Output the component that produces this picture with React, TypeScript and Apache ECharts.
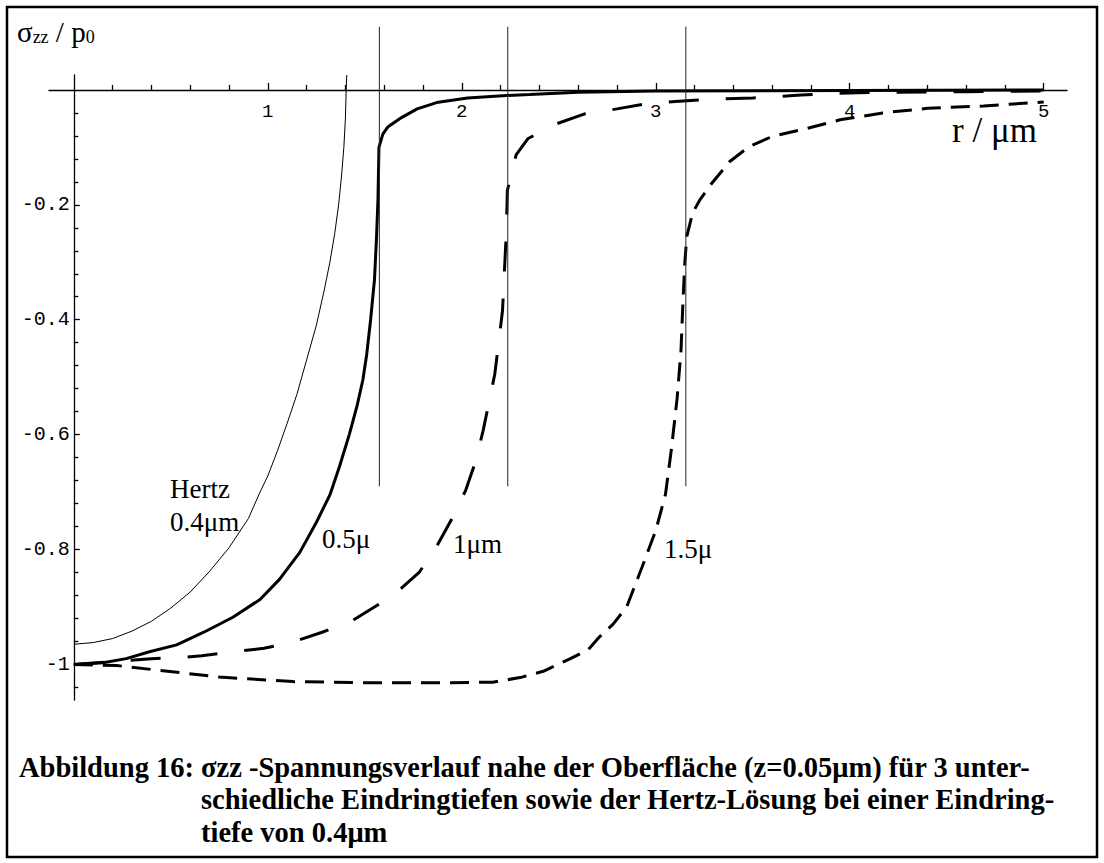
import React, { useEffect, useRef } from "react";
import * as echarts from "echarts";

// sigma_zz / p0 along r (µm) at z = 0.05 µm
const hertz04: [number, number][] = [
  [0, -0.965], [0.1, -0.962], [0.2, -0.955], [0.3, -0.942], [0.4, -0.925],
  [0.5, -0.902], [0.6, -0.874], [0.7, -0.838], [0.8, -0.797], [0.9, -0.746],
  [0.96, -0.7], [1.0, -0.672], [1.05, -0.628], [1.1, -0.58], [1.15, -0.53],
  [1.2, -0.47], [1.25, -0.41], [1.29, -0.35], [1.32, -0.3], [1.345, -0.25],
  [1.365, -0.2], [1.38, -0.15], [1.392, -0.1], [1.4, -0.05], [1.404, 0.0],
  [1.407, 0.026],
];

const depth05: [number, number][] = [
  [0, -1.0], [0.15, -0.997], [0.27, -0.99], [0.39, -0.978], [0.53, -0.966],
  [0.67, -0.944], [0.82, -0.918], [0.96, -0.887], [1.06, -0.852], [1.165, -0.805],
  [1.25, -0.753], [1.32, -0.705], [1.37, -0.655], [1.42, -0.6], [1.46, -0.55],
  [1.49, -0.505], [1.51, -0.46], [1.53, -0.4], [1.55, -0.33], [1.56, -0.26],
  [1.568, -0.19], [1.573, -0.1], [1.593, -0.077], [1.62, -0.064], [1.68, -0.05],
  [1.77, -0.033], [1.87, -0.022], [2.03, -0.014], [2.21, -0.01], [2.35, -0.008],
  [2.6, -0.004], [3.0, -0.002], [4.0, -0.001], [5.0, 0.0],
];

const depth10: [number, number][] = [
  [0, -1.0], [0.2, -0.995], [0.4, -0.99], [0.55, -0.988], [0.66, -0.985],
  [0.8, -0.979], [0.98, -0.972], [1.12, -0.962], [1.28, -0.944], [1.42, -0.927],
  [1.56, -0.898], [1.66, -0.876], [1.78, -0.84], [1.87, -0.795], [1.95, -0.746],
  [2.02, -0.697], [2.07, -0.648], [2.11, -0.593], [2.14, -0.544], [2.17, -0.495],
  [2.19, -0.44], [2.21, -0.384], [2.22, -0.314], [2.23, -0.245], [2.235, -0.175],
  [2.26, -0.141], [2.28, -0.113], [2.34, -0.085], [2.48, -0.06], [2.63, -0.042],
  [2.8, -0.033], [2.95, -0.024], [3.1, -0.02], [3.3, -0.016], [3.5, -0.014],
  [3.75, -0.009], [3.9, -0.006], [4.2, -0.004], [4.6, -0.003], [5.0, -0.002],
];

const depth15: [number, number][] = [
  [0, -1.0], [0.22, -1.002], [0.43, -1.01], [0.75, -1.022], [1.13, -1.03],
  [1.54, -1.032], [1.9, -1.032], [2.16, -1.031], [2.3, -1.023], [2.42, -1.012],
  [2.56, -0.99], [2.65, -0.975], [2.71, -0.952], [2.78, -0.93], [2.85, -0.9],
  [2.93, -0.83], [3.0, -0.767], [3.05, -0.704], [3.08, -0.627], [3.11, -0.537],
  [3.13, -0.454], [3.14, -0.37], [3.15, -0.3], [3.16, -0.255], [3.19, -0.214],
  [3.23, -0.19], [3.29, -0.162], [3.38, -0.125], [3.48, -0.099], [3.6, -0.081],
  [3.78, -0.067], [3.95, -0.052], [4.17, -0.04], [4.4, -0.032], [4.69, -0.028],
  [5.0, -0.021],
];

// contact radii of the three indentation depths (thin vertical markers)
const contactRadii = [1.575, 2.237, 3.155];
const markerTop = 0.11;
const markerBottom = -0.69;

const xMajorTicks = [1, 2, 3, 4, 5];
const yMajorTicks = [-0.2, -0.4, -0.6, -0.8, -1];
const xMinorTicks: number[] = [];
for (let k = 1; k <= 25; k++) if (k % 5 !== 0) xMinorTicks.push(+(k * 0.2).toFixed(2));
const yMinorTicks: number[] = [];
for (let k = 1; k <= 26; k++) if (k % 5 !== 0) yMinorTicks.push(+(-k * 0.04).toFixed(2));

const rMin = -0.128;
const rMax = 5.12;
const sMin = -1.062;
const sMax = 0.026;

// plot area in pixels
const L = 49;
const T = 75;
const W = 1018;
const H = 625;
// pixel position where the axes cross (r = 0, sigma = 0)
const x0 = L + (W * (0 - rMin)) / (rMax - rMin);
const y0 = T + (H * (sMax - 0)) / (sMax - sMin);

const SERIF = "Liberation Serif, Times New Roman, serif";
const MONO = "Liberation Mono, Courier New, monospace";

const captionHead = "Abbildung 16:";
const captionLines = [
  "σzz -Spannungsverlauf nahe der Oberfläche (z=0.05μm) für 3 unter-",
  "schiedliche Eindringtiefen sowie der Hertz-Lösung bei einer Eindring-",
  "tiefe von 0.4μm",
];

function serifLabel(text: string, x: number, baseline: number, size: number) {
  return {
    type: "text",
    x,
    y: baseline - 0.34 * size,
    silent: true,
    style: { text, fontSize: size, fontFamily: SERIF, fill: "#000", verticalAlign: "middle", align: "left" },
  };
}

export default function App() {
  const ref = useRef<HTMLDivElement>(null);

  useEffect(() => {
    if (!ref.current) return;
    const chart = echarts.init(ref.current, undefined, { renderer: "svg" });

    const axisColor = { color: "#000", width: 1.3 };
    const hidden = { show: false };

    const lineSeries = (data: [number, number][], width: number, type: any) => ({
      type: "line",
      xAxisIndex: 0,
      yAxisIndex: 0,
      data,
      showSymbol: false,
      symbol: "none",
      silent: true,
      lineStyle: { color: "#000", width, type },
    });

    const markerSeries = contactRadii.map((r) => ({
      type: "line",
      xAxisIndex: 0,
      yAxisIndex: 0,
      data: [[r, markerTop], [r, markerBottom]],
      showSymbol: false,
      symbol: "none",
      silent: true,
      clip: false,
      lineStyle: { color: "#222", width: 1 },
    }));

    chart.setOption({
      animation: false,
      backgroundColor: "#fff",
      grid: [
        // data area
        { left: L, top: T, width: W, height: H, containLabel: false },
        // strip whose lower edge is the r axis (sigma = 0)
        { left: L, top: T, width: W, height: y0 - T, containLabel: false },
        // strip whose left edge is the sigma axis (r = 0)
        { left: x0, top: T, width: 20, height: H, containLabel: false },
      ],
      xAxis: [
        { type: "value", gridIndex: 0, min: rMin, max: rMax, ...hidden },
        {
          type: "value", gridIndex: 1, min: rMin, max: rMax, position: "bottom",
          axisLine: { show: true, onZero: false, lineStyle: axisColor },
          axisTick: { show: true, inside: true, length: 7, customValues: xMajorTicks, lineStyle: axisColor },
          axisLabel: { customValues: xMajorTicks, fontFamily: MONO, fontSize: 19, color: "#000", margin: 13 },
          splitLine: { show: false },
        },
        {
          type: "value", gridIndex: 1, min: rMin, max: rMax, position: "bottom",
          axisLine: { show: false, onZero: false },
          axisTick: { show: true, inside: true, length: 5, customValues: xMinorTicks, lineStyle: axisColor },
          axisLabel: { show: false },
          splitLine: { show: false },
        },
        { type: "value", gridIndex: 2, min: 0, max: 1, ...hidden },
      ],
      yAxis: [
        { type: "value", gridIndex: 0, min: sMin, max: sMax, ...hidden },
        { type: "value", gridIndex: 1, min: 0, max: 1, ...hidden },
        {
          type: "value", gridIndex: 2, min: sMin, max: sMax, position: "left",
          axisLine: { show: true, onZero: false, lineStyle: axisColor },
          axisTick: { show: true, inside: true, length: 6, customValues: yMajorTicks, lineStyle: axisColor },
          axisLabel: { customValues: yMajorTicks, fontFamily: MONO, fontSize: 20, color: "#000", margin: 4 },
          splitLine: { show: false },
        },
        {
          type: "value", gridIndex: 2, min: sMin, max: sMax, position: "left",
          axisLine: { show: false, onZero: false },
          axisTick: { show: true, inside: true, length: 4.5, customValues: yMinorTicks, lineStyle: axisColor },
          axisLabel: { show: false },
          splitLine: { show: false },
        },
      ],
      series: [
        lineSeries(hertz04, 1, "solid"),
        lineSeries(depth05, 3, "solid"),
        lineSeries(depth10, 3, [30, 27]),
        lineSeries(depth15, 3, [19, 10]),
        ...markerSeries,
      ],
      graphic: [
        {
          type: "rect",
          shape: { x: 7, y: 7, width: 1090, height: 850 },
          style: { fill: "none", stroke: "#000", lineWidth: 2.5 },
          silent: true,
        },
        {
          type: "text",
          x: 17,
          y: 10,
          silent: true,
          style: {
            text: "{m|σ}{s|zz}{m| / p}{s|0}",
            verticalAlign: "top",
            align: "left",
            rich: {
              m: { fontSize: 29, fontFamily: SERIF, fill: "#000", lineHeight: 36, verticalAlign: "bottom" },
              s: { fontSize: 18, fontFamily: SERIF, fill: "#000", lineHeight: 24, verticalAlign: "bottom" },
            },
          },
        },
        serifLabel("r / μm", 952, 142, 35),
        serifLabel("Hertz", 170, 498, 27),
        serifLabel("0.4μm", 170, 531, 27),
        serifLabel("0.5μ", 322, 548, 27),
        serifLabel("1μm", 453, 553, 27),
        serifLabel("1.5μ", 664, 558, 27),
        {
          type: "text", x: 19, y: 767, silent: true,
          style: { text: captionHead, fontSize: 28.5, fontWeight: "bold", fontFamily: SERIF, fill: "#000", verticalAlign: "middle" },
        },
        ...captionLines.map((t, i) => ({
          type: "text", x: 201, y: 767 + i * 32.5, silent: true,
          style: { text: t, fontSize: 28.5, fontWeight: "bold", fontFamily: SERIF, fill: "#000", verticalAlign: "middle" },
        })),
      ],
    });

    return () => chart.dispose();
  }, []);

  return (
    <div
      ref={ref}
      style={{ position: "fixed", left: 0, top: 0, width: 1104, height: 863, background: "#fff" }}
    />
  );
}
